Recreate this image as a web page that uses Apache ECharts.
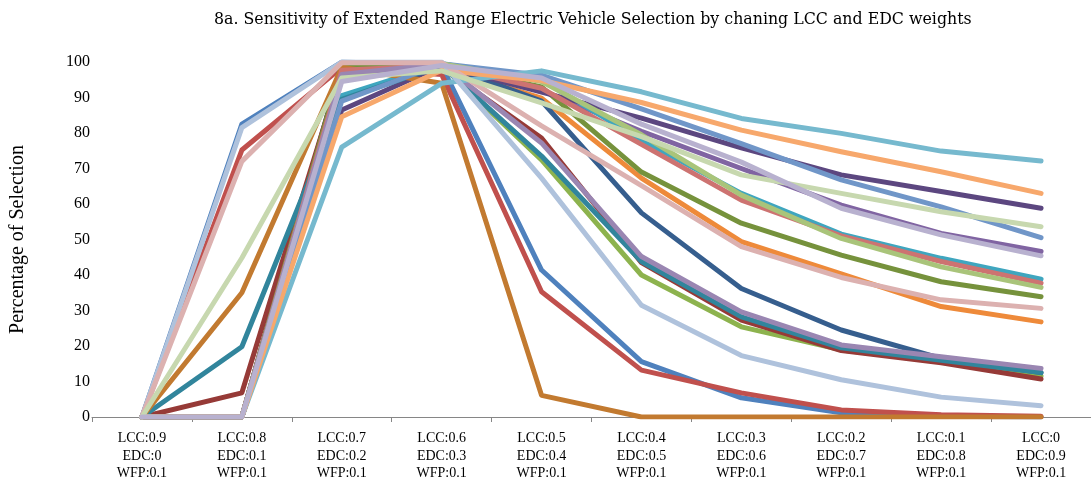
<!DOCTYPE html>
<html>
<head>
<meta charset="utf-8">
<title>Extended Range Electric Vehicle Selection sensitivity</title>
<script src="https://cdn.jsdelivr.net/npm/echarts@6/dist/echarts.min.js"></script>
<style>
  html, body { margin: 0; padding: 0; background: #ffffff; }
  #chart { width: 1091px; height: 487px; }
</style>
</head>
<body>
<div id="chart"></div>
<script>
// Weight combinations on the x axis (LCC / EDC / WFP)
const categories = [
  'LCC:0.9\nEDC:0\nWFP:0.1',
  'LCC:0.8\nEDC:0.1\nWFP:0.1',
  'LCC:0.7\nEDC:0.2\nWFP:0.1',
  'LCC:0.6\nEDC:0.3\nWFP:0.1',
  'LCC:0.5\nEDC:0.4\nWFP:0.1',
  'LCC:0.4\nEDC:0.5\nWFP:0.1',
  'LCC:0.3\nEDC:0.6\nWFP:0.1',
  'LCC:0.2\nEDC:0.7\nWFP:0.1',
  'LCC:0.1\nEDC:0.8\nWFP:0.1',
  'LCC:0\nEDC:0.9\nWFP:0.1'
];

// Percentage of selection for each series, one value per weight combination
const series1  = [0, 82.5, 100, 99, 41.4, 15.6, 5.4, 1.2, 0.2, 0];
const series2  = [0, 75.2, 98.5, 96.5, 35.3, 13.2, 6.8, 2.0, 0.6, 0.2];
const series3  = [0, 0, 96, 99, 72.4, 40, 25.4, 18.9, 15.6, 11.5];
const series4  = [0, 0, 98, 99.5, 92, 80.5, 70, 59.7, 51.7, 46.6];
const series5  = [0, 0, 90.5, 99.5, 95, 78, 63, 51.5, 44.7, 38.8];
const series6  = [0, 0, 99, 98.5, 89.8, 67.3, 49.4, 40.3, 31.1, 26.8];
const series7  = [0, 0, 99.5, 99.5, 89, 57.5, 36.2, 24.5, 16.5, 12.5];
const series8  = [0, 6.8, 98, 98.5, 78.6, 43.5, 27.3, 18.7, 15.3, 10.7];
const series9  = [0, 0, 99, 99, 93, 69, 54.6, 45.6, 38.1, 33.9];
const series10 = [0, 0, 86.5, 99, 91.5, 84.2, 75.8, 68.2, 63.5, 58.8];
const series11 = [0, 19.8, 89.5, 99, 73.5, 43.8, 28.2, 19.5, 16, 12.5];
const series12 = [0, 35, 98.5, 94, 6.1, 0, 0, 0, 0, 0];
const series13 = [0, 0, 89, 99.5, 96.3, 86.8, 77, 66.8, 59.2, 50.5];
const series14 = [0, 0, 97.7, 99, 92.6, 76.8, 61.1, 51, 43.8, 37.7];
const series15 = [0, 0, 96, 99.5, 94.5, 79.5, 62.5, 50.3, 42.3, 36.5];
const series16 = [0, 0, 96.5, 99.5, 77.2, 45.2, 29.6, 20.3, 17, 13.7];
const series17 = [0, 0, 76, 94, 97.5, 91.6, 84.1, 79.9, 74.9, 72.1];
const series18 = [0, 0, 84.6, 97.7, 94.8, 88.6, 80.8, 74.7, 69.1, 63.0];
const series19 = [0, 81.5, 100, 100, 67.3, 31.5, 17.3, 10.5, 5.6, 3.2];
const series20 = [0, 72, 99.8, 99.8, 82, 65.2, 48, 39.3, 33, 30.6];
const series21 = [0, 44.8, 95.5, 97.5, 88.5, 79, 68.2, 63, 57.8, 53.6];
const series22 = [0, 0, 94.5, 99, 95.5, 82.5, 71.8, 58.8, 51.3, 45.4];

const seriesValues = [
  series1, series2, series3, series4, series5, series6, series7, series8,
  series9, series10, series11, series12, series13, series14, series15,
  series16, series17, series18, series19, series20, series21, series22
];

const lineColors = [
  '#4F81BD', '#C0504D', '#8DB34E', '#8064A2', '#3FA6BF', '#EE8A3A',
  '#365E8E', '#963A37', '#76923C', '#5C4780', '#31859C', '#C27A30',
  '#7096C8', '#CD7371', '#A9C47A', '#9A86B2', '#76B9CE', '#F7A86C',
  '#AFC2DC', '#DCB1B0', '#C7D8AF', '#B8B1CF'
];

const serifFont = '"Liberation Serif", "DejaVu Serif", serif';

const chart = echarts.init(document.getElementById('chart'), null, { renderer: 'canvas' });

chart.setOption({
  animation: false,
  backgroundColor: '#ffffff',
  title: {
    text: '8a. Sensitivity of Extended Range Electric Vehicle Selection by chaning LCC and EDC weights',
    left: 209,
    top: 7,
    textStyle: {
      fontFamily: '"DejaVu Serif", serif',
      fontSize: 15.8,
      fontWeight: 'normal',
      color: '#000000'
    }
  },
  grid: {
    left: 90,
    right: 0,
    top: 62,
    bottom: 70,
    containLabel: false
  },
  xAxis: {
    type: 'category',
    data: categories,
    boundaryGap: true,
    axisLine: { show: true, lineStyle: { color: '#868686', width: 1 } },
    axisTick: { show: true, alignWithLabel: false, length: 5, lineStyle: { color: '#868686' } },
    axisLabel: {
      interval: 0,
      margin: 13,
      fontFamily: serifFont,
      fontSize: 14,
      lineHeight: 17.5,
      color: '#000000'
    },
    splitLine: { show: false }
  },
  yAxis: {
    type: 'value',
    min: 0,
    max: 100,
    interval: 10,
    name: 'Percentage of Selection',
    nameLocation: 'middle',
    nameGap: 64,
    nameRotate: 90,
    nameTextStyle: {
      fontFamily: serifFont,
      fontSize: 20,
      color: '#000000'
    },
    axisLine: { show: false },
    axisTick: { show: false },
    axisLabel: {
      margin: 2,
      fontFamily: serifFont,
      fontSize: 16,
      color: '#000000'
    },
    splitLine: { show: false }
  },
  series: seriesValues.map((values, i) => ({
    name: 'Series ' + (i + 1),
    type: 'line',
    data: values,
    symbol: 'none',
    smooth: false,
    lineStyle: {
      color: lineColors[i],
      width: 5,
      cap: 'round',
      join: 'round'
    },
    itemStyle: { color: lineColors[i] },
    emphasis: { disabled: true }
  }))
});
</script>
</body>
</html>
